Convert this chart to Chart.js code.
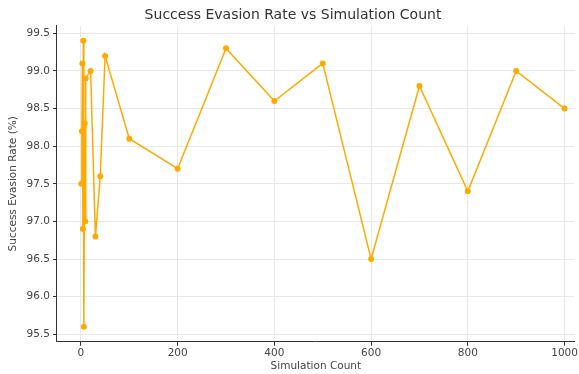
<!DOCTYPE html>
<html>
<head>
<meta charset="utf-8">
<script src="https://cdn.jsdelivr.net/npm/chart.js@4"></script>
<style>
  html, body { margin: 0; padding: 0; background: #fff; }
  #wrap { width: 579px; height: 374px; position: relative; }
</style>
</head>
<body>
<div id="wrap"><canvas id="chart"></canvas></div>
<script>
  // Data.
  const simulationCounts = [1, 2, 3, 4, 5, 6, 8, 9, 10, 20, 30, 40, 50, 100, 200, 300, 400, 500, 600, 700, 800, 900, 1000];
  const evasionRates = [97.5, 98.2, 99.1, 96.9, 99.4, 95.6, 98.3, 97.0, 98.9, 99.0, 96.8, 97.6, 99.2, 98.1, 97.7, 99.3, 98.6, 99.1, 96.5, 98.8, 97.4, 99.0, 98.5];
  const xTicks = [0, 200, 400, 600, 800, 1000];
  const yTicks = [95.5, 96.0, 96.5, 97.0, 97.5, 98.0, 98.5, 99.0, 99.5];

  const font = 'DejaVu Sans';
  const textColor = '#444';
  const lineColor = '#FFAA00';

  const points = simulationCounts.map((x, i) => ({ x, y: evasionRates[i] }));

  new Chart(document.getElementById('chart').getContext('2d'), {
    type: 'scatter',
    data: {
      datasets: [{
        data: points,
        showLine: true,
        borderColor: lineColor,
        backgroundColor: lineColor,
        borderWidth: 1.5,
        pointRadius: 3,
        pointBorderWidth: 0,
      }],
    },
    options: {
      responsive: true,
      maintainAspectRatio: false,
      animation: false,
      layout: { padding: { left: 7, right: 0, top: 1, bottom: 1 } },
      plugins: {
        legend: { display: false },
        tooltip: { enabled: false },
        title: {
          display: true,
          text: 'Success Evasion Rate vs Simulation Count',
          color: '#333',
          font: { family: font, size: 14, weight: 'normal' },
          padding: { top: 6, bottom: 2 },
        },
      },
      scales: {
        x: {
          type: 'linear',
          min: -49.5,
          max: 1021,
          afterBuildTicks: (axis) => { axis.ticks = xTicks.map((v) => ({ value: v })); },
          grid: { color: '#e8e8e8', tickColor: '#333', tickLength: 4 },
          border: { color: '#333', width: 1 },
          ticks: { color: textColor, font: { family: font, size: 10.5 }, padding: 1, maxRotation: 0, callback: (v) => String(v) },
          title: { display: true, text: 'Simulation Count', color: textColor, font: { family: font, size: 10.5 }, padding: { top: 0, bottom: 0 } },
        },
        y: {
          min: 95.4,
          max: 99.6,
          afterBuildTicks: (axis) => { axis.ticks = yTicks.map((v) => ({ value: v })); },
          grid: { color: '#e8e8e8', tickColor: '#333', tickLength: 4 },
          border: { color: '#333', width: 1 },
          ticks: { color: textColor, font: { family: font, size: 10.5 }, padding: 3, callback: (v) => v.toFixed(1) },
          title: { display: true, text: 'Success Evasion Rate (%)', color: textColor, font: { family: font, size: 10.5 }, padding: { top: 0, bottom: 4 } },
        },
      },
    },
  });
</script>
</body>
</html>
